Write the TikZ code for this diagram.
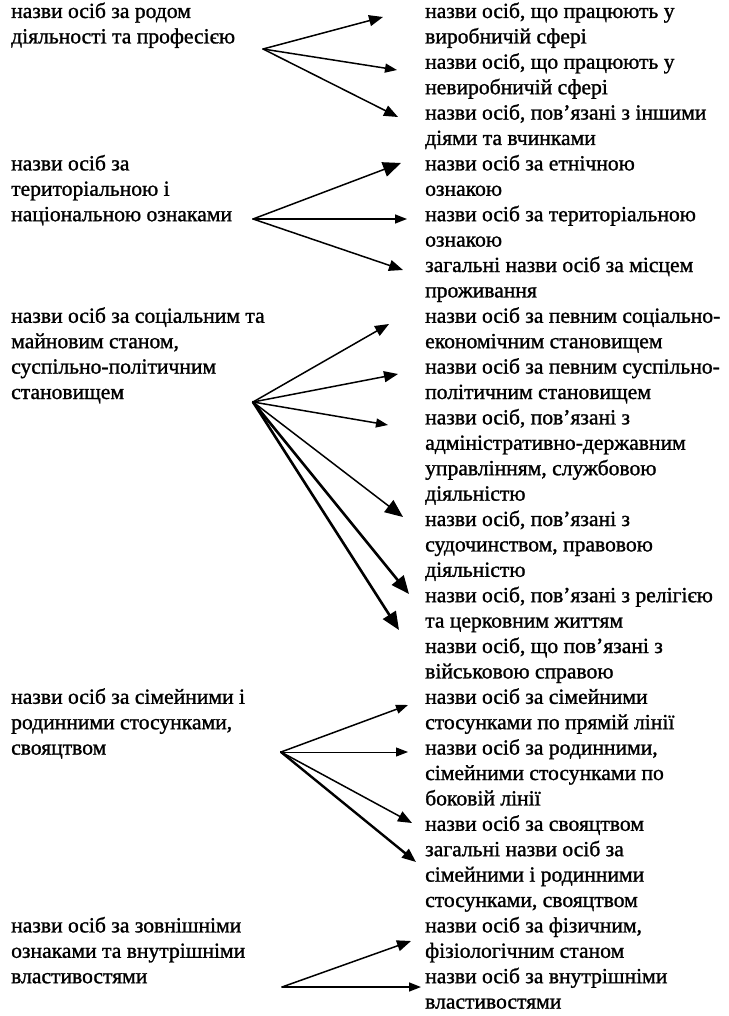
\documentclass[tikz,border=0pt]{standalone}
\usepackage{fontspec}
\setmainfont[FakeBold=1.2]{Liberation Serif}
\usetikzlibrary{arrows.meta}
\tikzset{
  txt/.style={anchor=base west, inner sep=0pt, font=\fontsize{21.6}{25.4}\selectfont},
  con/.style={line width=1.5pt, line cap=round},
  hs/.style={-{Triangle[length=12pt,width=9pt]}},
  hm/.style={-{Triangle[length=14pt,width=11pt]}},
  hl/.style={-{Triangle[length=18pt,width=15pt]}},
  heavy/.style={line width=2.6pt},
}
\begin{document}
\begin{tikzpicture}[x=1pt,y=-1pt]
\useasboundingbox (0,0) rectangle (728,1016);
% left column
\node[txt] (l1)  at (11,18)    {назви осіб за родом};
\node[txt] (l2)  at (11,43.4)  {діяльності та професією};
\node[txt] (l3)  at (11,170.4) {назви осіб за};
\node[txt] (l4)  at (11,195.8) {територіальною і};
\node[txt] (l5)  at (11,221.2) {національною ознаками};
\node[txt] (l6)  at (11,322.8) {назви осіб за соціальним та};
\node[txt] (l7)  at (11,348.2) {майновим станом,};
\node[txt] (l8)  at (11,373.6) {суспільно-політичним};
\node[txt] (l9)  at (11,399)   {становищем};
\node[txt] (l10) at (11,703.8) {назви осіб за сімейними і};
\node[txt] (l11) at (11,729.2) {родинними стосунками,};
\node[txt] (l12) at (11,754.6) {свояцтвом};
\node[txt] (l13) at (11,932.4) {назви осіб за зовнішніми};
\node[txt] (l14) at (11,957.8) {ознаками та внутрішніми};
\node[txt] (l15) at (11,983.2) {властивостями};
% right column
\node[txt] (r1)  at (425,18)    {назви осіб, що працюють у};
\node[txt] (r2)  at (425,43.4)  {виробничій сфері};
\node[txt] (r3)  at (425,68.8)  {назви осіб, що працюють у};
\node[txt] (r4)  at (425,94.2)  {невиробничій сфері};
\node[txt] (r5)  at (425,119.6) {назви осіб, пов’язані з іншими};
\node[txt] (r6)  at (425,145)   {діями та вчинками};
\node[txt] (r7)  at (425,170.4) {назви осіб за етнічною};
\node[txt] (r8)  at (425,195.8) {ознакою};
\node[txt] (r9)  at (425,221.2) {назви осіб за територіальною};
\node[txt] (r10) at (425,246.6) {ознакою};
\node[txt] (r11) at (425,272)   {загальні назви осіб за місцем};
\node[txt] (r12) at (425,297.4) {проживання};
\node[txt] (r13) at (425,322.8) {назви осіб за певним соціально-};
\node[txt] (r14) at (425,348.2) {економічним становищем};
\node[txt] (r15) at (425,373.6) {назви осіб за певним суспільно-};
\node[txt] (r16) at (425,399)   {політичним становищем};
\node[txt] (r17) at (425,424.4) {назви осіб, пов’язані з};
\node[txt] (r18) at (425,449.8) {адміністративно-державним};
\node[txt] (r19) at (425,475.2) {управлінням, службовою};
\node[txt] (r20) at (425,500.6) {діяльністю};
\node[txt] (r21) at (425,526)   {назви осіб, пов’язані з};
\node[txt] (r22) at (425,551.4) {судочинством, правовою};
\node[txt] (r23) at (425,576.8) {діяльністю};
\node[txt] (r24) at (425,602.2) {назви осіб, пов’язані з релігією};
\node[txt] (r25) at (425,627.6) {та церковним життям};
\node[txt] (r26) at (425,653)   {назви осіб, що пов’язані з};
\node[txt] (r27) at (425,678.4) {військовою справою};
\node[txt] (r28) at (425,703.8) {назви осіб за сімейними};
\node[txt] (r29) at (425,729.2) {стосунками по прямій лінії};
\node[txt] (r30) at (425,754.6) {назви осіб за родинними,};
\node[txt] (r31) at (425,780)   {сімейними стосунками по};
\node[txt] (r32) at (425,805.4) {боковій лінії};
\node[txt] (r33) at (425,830.8) {назви осіб за свояцтвом};
\node[txt] (r34) at (425,856.2) {загальні назви осіб за};
\node[txt] (r35) at (425,881.6) {сімейними і родинними};
\node[txt] (r36) at (425,907)   {стосунками, свояцтвом};
\node[txt] (r37) at (425,932.4) {назви осіб за фізичним,};
\node[txt] (r38) at (425,957.8) {фізіологічним станом};
\node[txt] (r39) at (425,983.2) {назви осіб за внутрішніми};
\node[txt] (r40) at (425,1008.6){властивостями};
% origins
\coordinate (o1) at (263,49);
\coordinate (o2) at (253,219);
\coordinate (o3) at (253,402);
\coordinate (o4) at (281,752);
\coordinate (o5) at (282,987);
% tips
\coordinate (t11) at (383,17);
\coordinate (t12) at (397,70);
\coordinate (t13) at (398,117);
\coordinate (t21) at (401,163);
\coordinate (t22) at (407,219);
\coordinate (t23) at (403,270);
\coordinate (t31) at (389,324);
\coordinate (t32) at (398,374);
\coordinate (t33) at (388,425);
\coordinate (t34) at (403,517);
\coordinate (t35) at (409,594);
\coordinate (t36) at (399,630);
\coordinate (t41) at (408,705);
\coordinate (t42) at (408,752);
\coordinate (t43) at (412,823);
\coordinate (t44) at (416,862);
\coordinate (t51) at (411,941);
\coordinate (t52) at (421,987);
% connectors
\draw[con,hm] (o1) -- (t11);
\draw[con,hs] (o1) -- (t12);
\draw[con,hm] (o1) -- (t13);
\draw[con,hl] (o2) -- (t21);
\draw[con,hs] (o2) -- (t22);
\draw[con,hm] (o2) -- (t23);
\draw[con,hm] (o3) -- (t31);
\draw[con,hm] (o3) -- (t32);
\draw[con,hs] (o3) -- (t33);
\draw[con,hl] (o3) -- (t34);
\draw[con,heavy,hl] (o3) -- (t35);
\draw[con,heavy,hl] (o3) -- (t36);
\draw[con,hs] (o4) -- (t41);
\draw[con,line width=1pt,hs] (o4) -- (t42);
\draw[con,hm] (o4) -- (t43);
\draw[con,line width=2.4pt,hm] (o4) -- (t44);
\draw[con,hm] (o5) -- (t51);
\draw[con,hs] (o5) -- (t52);
\end{tikzpicture}
\end{document}
